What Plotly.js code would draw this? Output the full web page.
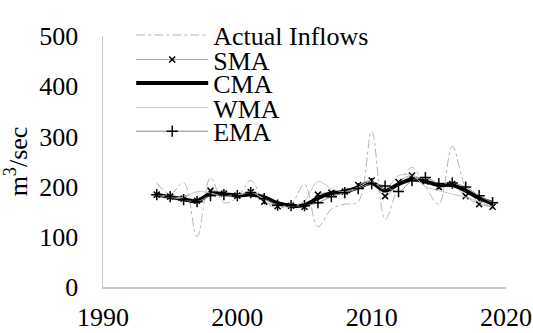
<!DOCTYPE html>
<html>
<head>
<meta charset="utf-8">
<script src="https://cdn.plot.ly/plotly-3.0.1.min.js"></script>
<style>html,body{margin:0;padding:0;background:#fff;}#chart{width:533px;height:333px;}</style>
</head>
<body>
<div id="chart"></div>
<script>
const years = [1994,1995,1996,1997,1998,1999,2000,2001,2002,2003,2004,2005,2006,2007,2008,2009,2010,2011,2012,2013,2014,2015,2016,2017,2018,2019];
const actualInflows = [207,185,208,100,218,168,178,212,170,158,165,205,120,155,165,170,310,135,200,238,200,165,280,198,170,160];
const sma = [184,180,176,172,192,186,182,189,170,161,162,160,184,188,190,203,212,181,209,222,210,199,205,181,165,160];
const cma = [184,179,175,171,186,185,182,184,179,167,162,163,177,187,190,198,207,192,205,214,210,203,203,192,177,167];
const wma = [184,178,179,190,187,181,183,190,174,163,160,172,210,196,190,199,210,195,222,222,200,192,185,179,170,160];
const ema = [184,180,174,170,182,184,182,188,176,163,162,162,168,180,188,196,206,201,190,212,218,206,207,199,182,168];
const seriesNames = ["Actual Inflows","SMA","CMA","WMA","EMA"];
const xTicks = [1990,2000,2010,2020];
const yTicks = [0,100,200,300,400,500];

const font = "'Times New Roman', 'Liberation Serif', serif";
const legendIds = ["legend","legend2","legend3","legend4","legend5"];
const traces = [
  {x: years, y: actualInflows, name: seriesNames[0], mode: "lines",
   line: {color: "#b4b4b4", width: 1, dash: "dashdot", shape: "spline"}},
  {x: years, y: sma, name: seriesNames[1], mode: "lines+markers",
   line: {color: "#a6a6a6", width: 1, shape: "spline"},
   marker: {symbol: "x-thin", size: 6, color: "#000", line: {color: "#000", width: 1.5}}},
  {x: years, y: cma, name: seriesNames[2], mode: "lines",
   line: {color: "#000", width: 4, shape: "spline"}},
  {x: years, y: wma, name: seriesNames[3], mode: "lines",
   line: {color: "#c8c8c8", width: 1, shape: "spline"}},
  {x: years, y: ema, name: seriesNames[4], mode: "lines+markers",
   line: {color: "#8c8c8c", width: 1, shape: "spline"},
   marker: {symbol: "cross-thin", size: 8, color: "#000", line: {color: "#000", width: 1.5}}}
];
traces.forEach((t, i) => { t.legend = legendIds[i]; });

const plotTop = 21, plotH = 266;
const legendRows = [20, 46, 71, 97, 122];
const layout = {
  width: 533, height: 333,
  margin: {l: 103, r: 27, t: plotTop, b: 46},
  paper_bgcolor: "#fff", plot_bgcolor: "#fff",
  font: {family: font, color: "#000"},
  showlegend: true,
  xaxis: {range: [1990, 2020], tickvals: xTicks, ticktext: xTicks.map(String),
          showgrid: false, zeroline: false, showline: true, linecolor: "#c8c8c8", linewidth: 1.5,
          ticks: "", tickfont: {family: font, size: 26, color: "#000"}, ticklabelstandoff: 6},
  yaxis: {range: [0, 500], tickvals: yTicks, ticktext: yTicks.map(String),
          showgrid: false, zeroline: false, showline: true, linecolor: "#c8c8c8", linewidth: 1.5,
          ticks: "", tickfont: {family: font, size: 26, color: "#000"}, ticklabelstandoff: 18,
          title: {text: "m<sup>3</sup>/sec", font: {family: font, size: 26, color: "#000"}, standoff: 4}}
};
legendIds.forEach((id, i) => {
  layout[id] = {x: 0.07, y: 1 - (legendRows[i] - plotTop) / plotH, xanchor: "left", yanchor: "middle",
    bgcolor: "rgba(0,0,0,0)", font: {family: font, size: 26, color: "#000"}, itemwidth: 72,
    borderwidth: 0};
});
Plotly.newPlot("chart", traces, layout, {displayModeBar: false, staticPlot: true});
</script>
</body>
</html>
